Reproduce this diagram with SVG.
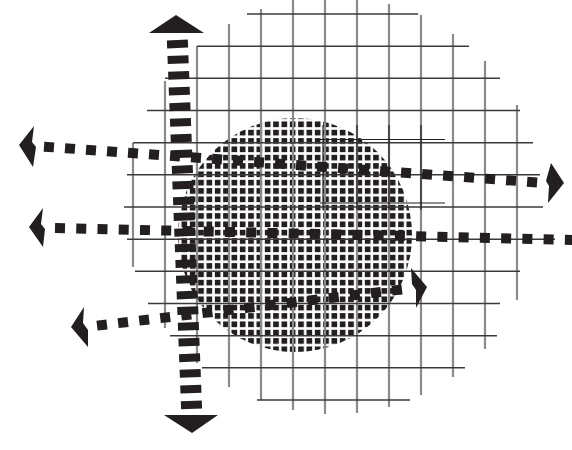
<svg xmlns="http://www.w3.org/2000/svg" width="572" height="450" viewBox="0 0 572 450">
<defs>
<pattern id="dots" patternUnits="userSpaceOnUse" x="6.5" y="4.8" width="8.333" height="8.333">
<rect x="0" y="0" width="5.7" height="5.7" fill="#231f20"/>
</pattern>
<style>
.h{stroke:#3a3a3a;stroke-width:1.6;fill:none}
.v{stroke:#8a8a8a;stroke-width:2.2;fill:none}
.k{stroke:#231f20;stroke-width:1.2;fill:none}
.sq{stroke:#231f20;stroke-width:10;fill:none}
.bar{stroke:#231f20;stroke-width:21;fill:none}
.head{fill:#231f20;stroke:none}
</style>
</defs>
<rect width="572" height="450" fill="#ffffff"/>
<g id="dotted-circle">
<circle cx="295" cy="235" r="117" fill="url(#dots)"/>
</g>
<g id="grid">
<line class="v" x1="133" y1="143" x2="133" y2="267"/>
<line class="v" x1="165" y1="81" x2="165" y2="328"/>
<line class="v" x1="197" y1="46" x2="197" y2="363"/>
<line class="v" x1="229" y1="24" x2="229" y2="387"/>
<line class="v" x1="261" y1="9" x2="261" y2="400"/>
<line class="v" x1="293" y1="0" x2="293" y2="410"/>
<line class="v" x1="325" y1="0" x2="325" y2="414"/>
<line class="v" x1="357" y1="0" x2="357" y2="413"/>
<line class="v" x1="389" y1="4" x2="389" y2="407"/>
<line class="v" x1="421" y1="15" x2="421" y2="395"/>
<line class="v" x1="453" y1="34" x2="453" y2="377"/>
<line class="v" x1="485" y1="61" x2="485" y2="349"/>
<line class="v" x1="517" y1="105" x2="517" y2="300"/>
<line class="h" x1="247" y1="14" x2="418" y2="14"/>
<line class="h" x1="197" y1="46.2" x2="469" y2="46.2"/>
<line class="h" x1="165" y1="78.3" x2="500" y2="78.3"/>
<line class="h" x1="147" y1="110.5" x2="520" y2="110.5"/>
<line class="h" x1="133" y1="142.7" x2="533" y2="142.7"/>
<line class="h" x1="127" y1="174.8" x2="540" y2="174.8"/>
<line class="h" x1="124" y1="207" x2="543" y2="207"/>
<line class="h" x1="127" y1="239.2" x2="555" y2="239.2"/>
<line class="h" x1="135" y1="271.3" x2="520" y2="271.3"/>
<line class="h" x1="148" y1="303.5" x2="500" y2="303.5"/>
<line class="h" x1="170" y1="335.7" x2="497" y2="335.7"/>
<line class="h" x1="202" y1="367.8" x2="465" y2="367.8"/>
<line class="h" x1="257" y1="400" x2="410" y2="400"/>
<line class="k" x1="320" y1="139.5" x2="445" y2="139.5"/>
<line class="k" x1="320" y1="203" x2="445" y2="203"/>
<line class="k" x1="323" y1="125" x2="323" y2="210"/>
<line class="k" x1="357" y1="125" x2="357" y2="210"/>
<line class="k" x1="389" y1="125" x2="389" y2="210"/>
<line class="k" x1="421" y1="125" x2="421" y2="210"/>
</g>
<g id="connectors">
<g id="arrow-vertical">
<path class="bar" d="M177.35,40 L191.6,408.8" stroke-dasharray="8 7.7"/>
<polygon class="head" points="176,15 204,33 149,33"/>
<polygon class="head" points="164,415 218,415 192,433"/>
</g>
<g id="arrow-top">
<path class="sq" d="M44,146.64 L537.1,182.4" stroke-dasharray="10 11.06"/>
<polygon class="head" points="19,145 34,126 32,142 36,147 33,167"/>
<polygon class="head" points="551,163 564,183 548,203 549,186 546,181"/>
</g>
<g id="arrow-middle">
<path class="sq" d="M55,227.9 L580,240.2" stroke-dasharray="10 11.25"/>
<polygon class="head" points="29,227 43,208 41,224 45,229 43,247"/>
</g>
<g id="arrow-bottom">
<path class="sq" d="M97.03,325.6 L402.2,289.4" stroke-dasharray="10 11.22"/>
<polygon class="head" points="71,327 84,307 83,323 88,330 88,347"/>
<polygon class="head" points="411,268 427,287 416,308 416,290 412,284"/>
</g>
</g>
</svg>
